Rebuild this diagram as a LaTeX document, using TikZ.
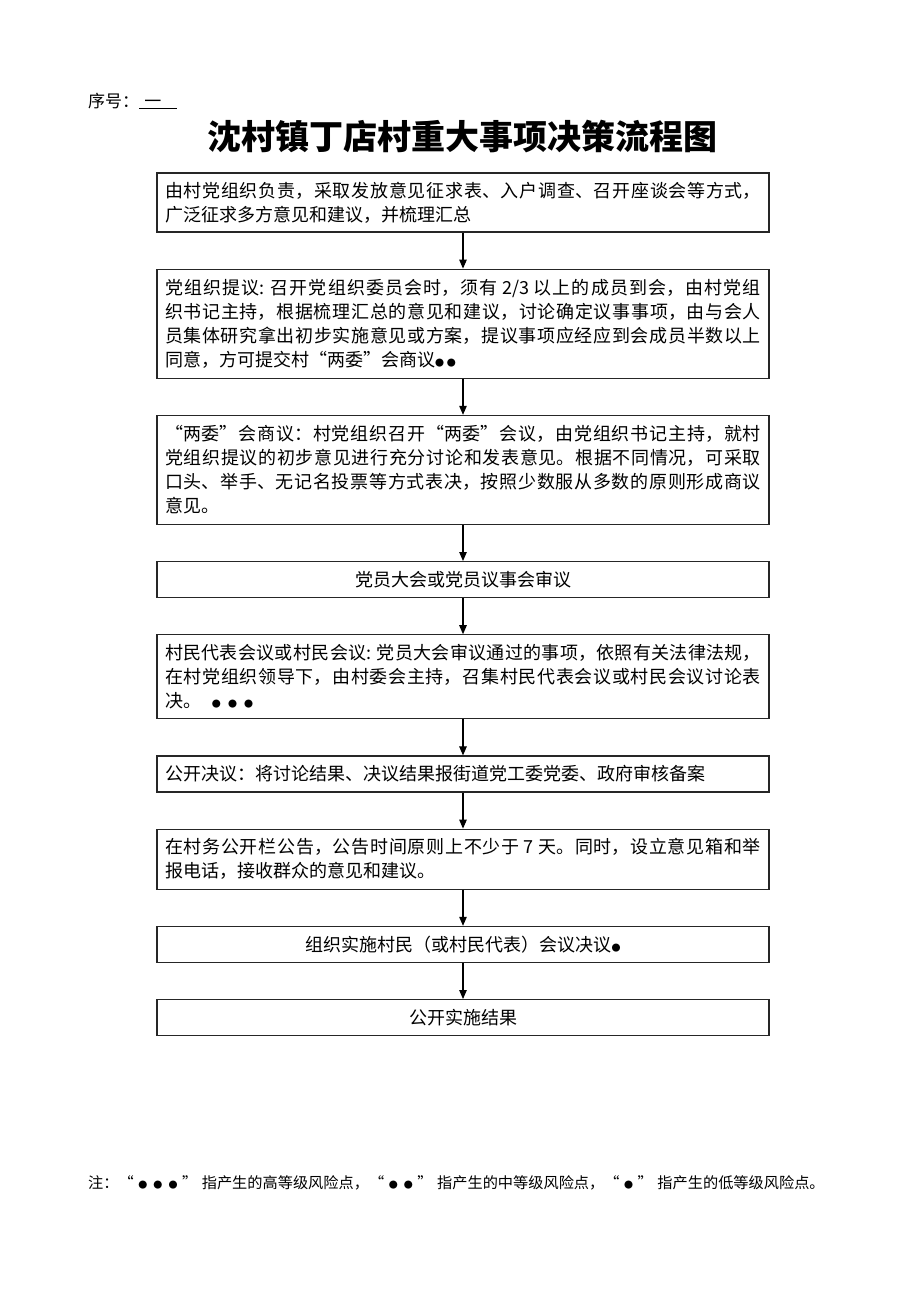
\documentclass[tikz,border=0pt]{standalone}
\usepackage{fontspec}
\setmainfont{Noto Sans CJK SC}
\usetikzlibrary{positioning,arrows.meta}
\XeTeXlinebreaklocale "zh"
\XeTeXlinebreakskip=0pt plus 6pt
\newcommand\riskdot{{\fontsize{9}{9}\selectfont ●}}
\newcommand\tightcjk{\XeTeXlinebreakskip 0pt\relax}
\tikzset{
        node distance=36pt,
        stepbox/.style={draw=black!85, line width=1.2pt, text width=596pt, inner xsep=8pt, inner ysep=3pt, align=justify, font=\fontsize{18}{24}\selectfont},
        midbox/.style={stepbox, align=center, font=\fontsize{18}{24}\selectfont\tightcjk},
        flow/.style={-{Triangle[length=9pt,width=7.5pt]}, line width=1.1pt},
        heading/.style={font=\fontsize{34}{40}\selectfont\bfseries},
        smalltext/.style={font=\fontsize{17}{20}\selectfont, inner sep=0pt},
        notetext/.style={font=\fontsize{15.2}{18}\selectfont, inner sep=0pt}
          }
\begin{document}
\begin{tikzpicture}[x=1pt,y=-1pt]
            \useasboundingbox (0,0) rectangle (920,1302);
            \node[smalltext, anchor=west] (serial) at (88,101) {序号：\underline{\hspace{0.3em}一\hspace{0.9em}}};
            \node[heading] (title) at (462,137) {沈村镇丁店村重大事项决策流程图};
            \node[stepbox, minimum height=59pt] (collect) at (463,202.5) {由村党组织负责，采取发放意见征求表、入户调查、召开座谈会等方式，\linebreak 广泛征求多方意见和建议，并梳理汇总};
            \node[stepbox, minimum height=109pt, below=of collect] (propose) {党组织提议: 召开党组织委员会时，须有 2/3 以上的成员到会，由村党组\linebreak 织书记主持，根据梳理汇总的意见和建议，讨论确定议事事项，由与会人\linebreak 员集体研究拿出初步实施意见或方案，提议事项应经应到会成员半数以上\linebreak 同意，方可提交村“两委”会商议\riskdot\,\riskdot};
            \node[stepbox, minimum height=109pt, below=of propose] (discuss) {“两委”会商议：村党组织召开“两委”会议，由党组织书记主持，就村\linebreak 党组织提议的初步意见进行充分讨论和发表意见。根据不同情况，可采取\linebreak 口头、举手、无记名投票等方式表决，按照少数服从多数的原则形成商议\linebreak 意见。};
            \node[midbox, minimum height=36pt, below=of discuss] (review) {党员大会或党员议事会审议};
            \node[stepbox, minimum height=84pt, below=of review] (decide) {村民代表会议或村民会议: 党员大会审议通过的事项，依照有关法律法规，\linebreak 在村党组织领导下，由村委会主持，召集村民代表会议或村民会议讨论表\linebreak 决。\hspace{0.6em}\riskdot\hspace{0.4em}\riskdot\hspace{0.4em}\riskdot};
            \node[stepbox, minimum height=36pt, below=of decide] (publish) {公开决议：将讨论结果、决议结果报街道党工委党委、政府审核备案};
            \node[stepbox, minimum height=60pt, below=of publish] (notice) {在村务公开栏公告，公告时间原则上不少于 7 天。同时，设立意见箱和举\linebreak 报电话，接收群众的意见和建议。};
            \node[midbox, minimum height=36pt, below=of notice] (implement) {组织实施村民（或村民代表）会议决议\riskdot};
            \node[midbox, minimum height=36pt, below=of implement] (result) {公开实施结果};
            \foreach \from/\to in {collect/propose, propose/discuss, discuss/review, review/decide, decide/publish, publish/notice, notice/implement, implement/result}
              \draw[flow] (\from) -- (\to);
            \node[notetext, anchor=west] (note) at (88,1183) {注：“\hspace{0.3em}\riskdot\hspace{0.4em}\riskdot\hspace{0.4em}\riskdot\hspace{0.3em}”\hspace{0.3em}指产生的高等级风险点，“\hspace{0.3em}\riskdot\hspace{0.4em}\riskdot\hspace{0.3em}”\hspace{0.3em}指产生的中等级风险点，“\hspace{0.3em}\riskdot\hspace{0.3em}”\hspace{0.3em}指产生的低等级风险点。};
          \end{tikzpicture}
\end{document}
